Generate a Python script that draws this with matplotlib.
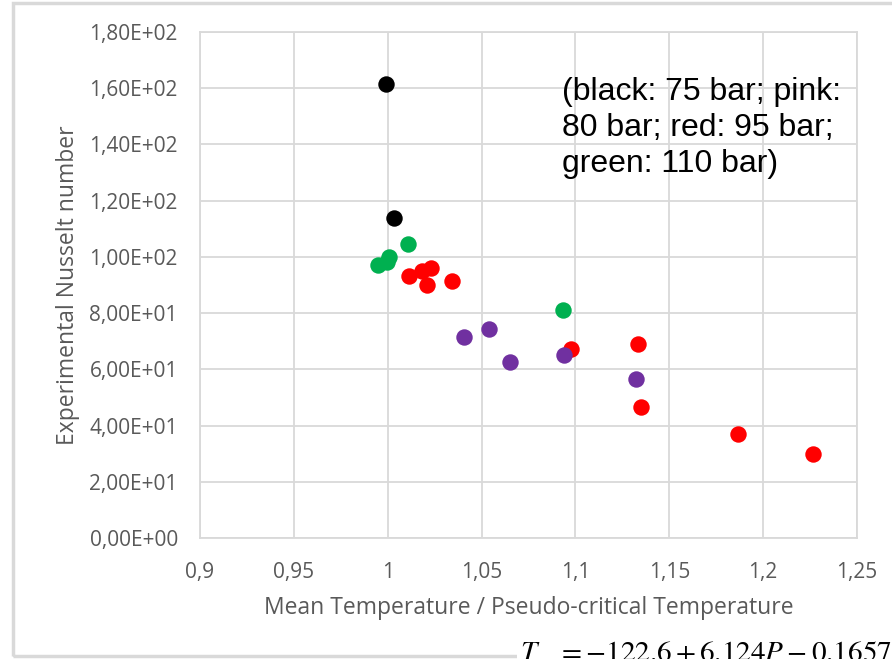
import matplotlib.pyplot as plt
from matplotlib.ticker import FuncFormatter, MultipleLocator
from matplotlib.patches import Rectangle

# data (x = Tm / Tpc, y = Nusselt number)
black_x = [0.9991, 1.0034]
black_y = [161.5, 113.8]

green_x = [0.9948, 0.9995, 1.0007, 1.0108, 1.0934]
green_y = [97.1, 98.2, 99.8, 104.6, 81.1]

red_x = [1.0113, 1.0183, 1.0231, 1.0209, 1.0342, 1.0975, 1.1335, 1.1348, 1.1868, 1.2264]
red_y = [93.2, 95.0, 96.0, 90.0, 91.4, 67.1, 68.9, 46.5, 36.9, 29.8]

purple_x = [1.0406, 1.0538, 1.0653, 1.0939, 1.1323]
purple_y = [71.6, 74.2, 62.5, 65.2, 56.6]

GREY = '#595959'
GRID = '#d9d9d9'

fig = plt.figure(figsize=(8.92, 6.59), dpi=100)
ax = fig.add_axes([200 / 892, 121 / 659, 657 / 892, 506 / 659])

ms = 140
ax.scatter(black_x, black_y, s=ms, color='black', zorder=3, linewidths=0)
ax.scatter(green_x, green_y, s=ms, color='#00b050', zorder=3, linewidths=0)
ax.scatter(red_x, red_y, s=ms, color='#ff0000', zorder=3, linewidths=0)
ax.scatter(purple_x, purple_y, s=ms, color='#7030a0', zorder=4, linewidths=0)

ax.set_xlim(0.9, 1.25)
ax.set_ylim(0, 180)
ax.xaxis.set_major_locator(MultipleLocator(0.05))
ax.yaxis.set_major_locator(MultipleLocator(20))


def fmt_x(v, pos):
    return ('%g' % round(v, 2)).replace('.', ',')


def fmt_y(v, pos):
    return ('%.2E' % v).replace('.', ',')


ax.xaxis.set_major_formatter(FuncFormatter(fmt_x))
ax.yaxis.set_major_formatter(FuncFormatter(fmt_y))

ax.grid(True, color=GRID, linewidth=1.3)
ax.set_axisbelow(True)
for sp in ax.spines.values():
    sp.set_color(GRID)
    sp.set_linewidth(1.3)
ax.tick_params(length=0, labelsize=15, labelcolor=GREY)
ax.tick_params(axis='y', pad=16)
ax.tick_params(axis='x', pad=17)
for lab in ax.get_xticklabels() + ax.get_yticklabels():
    lab.set_family('Open Sans')

ax.set_xlabel('Mean Temperature / Pseudo-critical Temperature',
              fontsize=16.5, color=GREY, family='Open Sans', labelpad=10)
ax.set_ylabel('Experimental Nusselt number',
              fontsize=16.5, color=GREY, family='Open Sans', labelpad=7)

ax.text(0.551, 0.912,
        '(black: 75 bar; pink:\n80 bar; red: 95 bar;\ngreen: 110 bar)',
        transform=ax.transAxes, fontsize=23, family='Liberation Sans',
        va='top', ha='left', linespacing=1.28)

# outer chart frame
fig.patches.append(Rectangle((13 / 892, 3 / 659), 1.2, 653 / 659,
                             transform=fig.transFigure, fill=False,
                             edgecolor=GRID, linewidth=2.5))

# equation pasted over the bottom of the slide
fig.text(520 / 892, -0.012, r'$T\ \ \ = \mathrm{-122.6 + 6.124}P - \mathrm{0.1657}$',
         fontsize=21, family='Liberation Serif', va='bottom', ha='left',
         math_fontfamily='stix', zorder=10,
         bbox=dict(facecolor='white', edgecolor='none', pad=2))

fig.savefig('out.png', dpi=100)
